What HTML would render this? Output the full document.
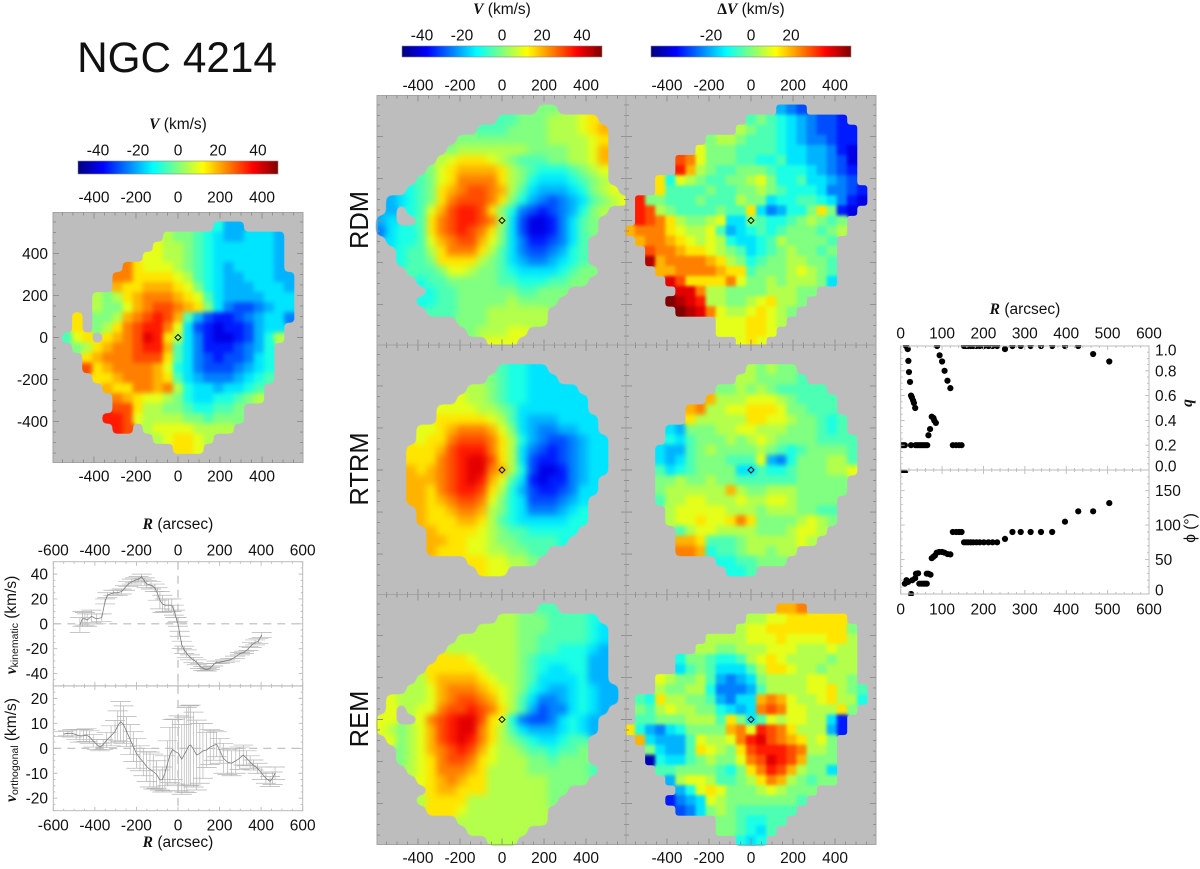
<!DOCTYPE html>
<html lang="en">
<head>
<meta charset="utf-8">
<title>NGC 4214 kinematic maps</title>
<style>
html,body{margin:0;padding:0;background:#fff}
svg{display:block}
text{font-family:"Liberation Sans",sans-serif;fill:#111;font-size:15.5px}
.vs{font-family:"Liberation Serif",serif;font-weight:bold;font-style:italic}
</style>
</head>
<body>
<svg id="fig" xmlns="http://www.w3.org/2000/svg" width="1200" height="869" viewBox="0 0 1200 869">
<defs>
<linearGradient id="jetGrad" x1="0" x2="1" y1="0" y2="0">
<stop offset="0" stop-color="#00007f"/><stop offset=".125" stop-color="#0000ff"/><stop offset=".375" stop-color="#00ffff"/><stop offset=".625" stop-color="#ffff00"/><stop offset=".875" stop-color="#ff0000"/><stop offset="1" stop-color="#7f0000"/>
</linearGradient>
<filter id="blurS" x="-8%" y="-8%" width="116%" height="116%" color-interpolation-filters="sRGB"><feGaussianBlur stdDeviation="1.5"/><feComponentTransfer><feFuncA type="linear" slope="8" intercept="-3.5"/></feComponentTransfer></filter>
<filter id="blurM" x="-8%" y="-8%" width="116%" height="116%" color-interpolation-filters="sRGB"><feGaussianBlur stdDeviation="2.5"/><feComponentTransfer><feFuncA type="linear" slope="8" intercept="-3.5"/></feComponentTransfer></filter>
<filter id="blurL" x="-8%" y="-8%" width="116%" height="116%" color-interpolation-filters="sRGB"><feGaussianBlur stdDeviation="3.5"/><feComponentTransfer><feFuncA type="linear" slope="8" intercept="-3.5"/></feComponentTransfer></filter>
<clipPath id="clipQ"><rect x="901" y="345" width="248" height="128"/></clipPath>
<clipPath id="clipPhi"><rect x="901" y="470" width="248" height="126"/></clipPath>
</defs>
<rect width="1200" height="869" fill="#fff"/>
<text x="177" y="72" text-anchor="middle" style="font-size:42.3px">NGC 4214</text>

<text x="178" y="129" text-anchor="middle"><tspan class="vs">V</tspan> (km/s)</text>
<text x="502" y="14" text-anchor="middle"><tspan class="vs">V</tspan> (km/s)</text>
<text x="751" y="14" text-anchor="middle"><tspan style="font-family:'Liberation Serif',serif;font-weight:bold">Δ</tspan><tspan class="vs">V</tspan> (km/s)</text>
<rect x="78" y="161" width="200" height="13" fill="url(#jetGrad)" stroke="#888" stroke-width=".6"/>
<rect x="402" y="46" width="200" height="11" fill="url(#jetGrad)" stroke="#888" stroke-width=".6"/>
<rect x="651" y="46" width="200" height="11" fill="url(#jetGrad)" stroke="#888" stroke-width=".6"/>

<text transform="translate(368,220) rotate(-90)" text-anchor="middle" style="font-size:25.5px">RDM</text>
<text transform="translate(368,469) rotate(-90)" text-anchor="middle" style="font-size:25.5px">RTRM</text>
<text transform="translate(368,719) rotate(-90)" text-anchor="middle" style="font-size:25.5px">REM</text>

<text x="178" y="529" text-anchor="middle"><tspan class="vs">R</tspan> (arcsec)</text>
<text x="178" y="847" text-anchor="middle"><tspan class="vs">R</tspan> (arcsec)</text>
<text transform="translate(16,625) rotate(-90)" text-anchor="middle"><tspan class="vs">v</tspan><tspan dy="2" style="font-size:10.5px">kinematic</tspan><tspan dy="-2"> (km/s)</tspan></text>
<text transform="translate(16,750) rotate(-90)" text-anchor="middle"><tspan class="vs">v</tspan><tspan dy="2" style="font-size:10.5px">orthogonal</tspan><tspan dy="-2"> (km/s)</tspan></text>
<text x="1025" y="314" text-anchor="middle"><tspan class="vs">R</tspan> (arcsec)</text>
<text transform="translate(1192,403) rotate(-90)" text-anchor="middle"><tspan class="vs">q</tspan></text>
<text transform="translate(1195,528) rotate(-90)" text-anchor="middle">ϕ (°)</text>
<g id="layer"></g>
</svg>
<script>
// Colorbar and axis tick labels
const cbarLabels = [-40, -20, 0, 20, 40];
const residualCbarLabels = [-20, 0, 20];
const mapTicks = [-400, -200, 0, 200, 400];
const profileXTicks = [-600, -400, -200, 0, 200, 400, 600];
const kinYTicks = [-40, -20, 0, 20, 40];
const ortYTicks = [-20, -10, 0, 10, 20];
const scatterXTicks = [0, 100, 200, 300, 400, 500, 600];
const qTicks = [0, 0.2, 0.4, 0.6, 0.8, 1];
const phiTicks = [0, 50, 100, 150];

// Kinematic profile: radius (arcsec), velocity (km/s), error (km/s)
const kinR = [-472,-460,-448,-437,-416,-392,-367,-351,-340,-311,-290,-271,-255,-239,-222,-207,-190,-175,-160,-151,-130,-111,-98,-87,-75,-63,-45,-30,-20,-14,-6,0,8,18,30,42,58,74,90,106,122,138,154,170,186,202,226,250,274,298,318,339,355,371,387,403];
const kinV = [-1,4,4,3,6,4,5,18,23,25,25,26,29,32,34,35,36,38,34,32,31,29,24,19,16,15,15,15,11,8,3,0,-8,-17,-21,-24,-27,-29,-31,-34,-36,-37,-36,-33,-31,-31,-30,-29,-27,-24,-23,-20,-17,-15,-14,-9];
const kinE = [6,6,5,5,5,4,3,2,2,2,2,2,2,2,2,2,2,2,3,3,3,3,5,7,7,5,5,5,4,3,2,2,2,3,3,3,2,2,2,2,1.5,1,1,1,1,1,1,1,1,1,1,1.5,2,2,2,2];

// Orthogonal profile
const ortR = [-550,-530,-510,-490,-472,-455,-440,-425,-408,-390,-375,-360,-343,-322,-303,-290,-276,-262,-247,-230,-215,-200,-183,-167,-151,-135,-119,-103,-87,-75,-63,-50,-39,-26,-14,2,18,30,42,52,61,75,90,105,120,138,155,172,186,202,218,238,258,278,296,314,330,347,363,383,403,423,443,455,467];
const ortV = [5.7,6,6,5.5,5,5,5.3,4.5,3,1.5,.5,1.5,3.3,5,6.7,9,10.7,9.5,6.7,3.5,.7,-2,-4,-5.5,-7.3,-8.5,-9.3,-10.5,-12.7,-12.5,-10,-6,-2.7,-.5,-1.3,-2,-4.4,-2.5,-.7,1,1.3,-.5,-2.7,-2,-1,-.7,.5,1.2,1.6,-1,-4,-5.5,-6,-5,-4,-2.7,-4,-5.5,-6.7,-8,-10,-12,-13.3,-12,-10];
const ortE = [1,1,1.5,2,2.5,2.5,2.5,2.5,2.5,2,1.5,2,3,4,4.5,6,8,7.5,6,6,6,6,5,5.5,6,7,7,5.5,4,5,7,9,11,12,13,15,14,15,17,16,16,15,14,12,11,7,7,6,5,5,6,5,5,5,4.5,4,3,2.5,2,2,2.5,2,2,2.5,2.5];

// Axis ratio q against radius
const qR = [2,6,10,2,6,10,25,36,40,44,48,52,56,60,64,67,71,75,79,81,85,13,17,18.5,20,22.5,25,27,30,32,35,88,94,100,106,113,120,126,134,141,147,153,158,163,169,175,183,191,201,212,222,233,252,270,290,314,339,366,397,429,465,504];
const qV = [-.02,-.02,-.02,.2,.2,.2,.2,.2,.2,.2,.2,.2,.2,.2,.2,.28,.33,.43,.42,.4,.38,1,.975,.88,.79,.71,.6,.585,.56,.54,.5,1,.925,.875,.8,.72,.66,.2,.2,.2,.2,1,1,1,1,1,1,1,1,1,1,1,.975,1,1,1,1,1,1,1,.935,.875];

// Position angle phi against radius
const phiR = [10,14,18,25,28,35,37,42,45,50,55,59,63,63,67,72,75,79,83,87,93,100,106,113,120,126,134,141,147,153,158,163,169,175,183,191,201,212,222,233,252,270,290,314,339,366,397,429,465,504];
const phiV = [15,20,17.5,0,20,23,29.5,30,15,15,15,15,15,29.5,29.5,28,52,54,56,60,61,61,60,58,57.5,90,90,90,90,75,75,75,75,75,75,75,75,75,75,75,80,90,90,90,90,90,105,120,120,132];

// Map cells: rows top to bottom, columns left to right, in units of 5 km/s. Empty = no data.
const obsMap = [
[],
[,,,,,,,,,,,,,,,,-2,-4,-4],
[,,,,,,,,,,,1,0,0,-1,-2,-3,-4,-4,-3,-3,-3,-4],
[,,,,,,,,,,2,1,1,0,-1,-2,-3,-3,-3,-3,-3,-3,-4],
[,,,,,,,,,2,2,1,1,0,-1,-2,-3,-3,-3,-3,-3,-3,-4],
[,,,,,,,5,3,2,2,2,1,0,-1,-2,-3,-4,-3,-3,-3,-3,-4],
[,,,,,,5,5,3,3,3,3,2,1,-1,-2,-3,-4,-4,-3,-3,-3,-4,-4],
[,,,,,,4,3,3,4,4,4,3,2,0,-2,-3,-4,-4,-4,-3,-3,-3,-4],
[,,,,1,0,1,3,4,5,5,5,4,3,2,-1,-3,-4,-4,-4,-4,-3,-3,-3],
[,,,,1,0,0,2,4,5,6,6,5,4,3,0,-3,-5,-6,-6,-5,-4,-3,-3],
[,,3,,0,0,1,4,5,6,7,6,4,-1,-4,-6,-7,-7,-6,-5,-4,-3,-3,-5],
[,,3,,0,1,3,5,6,7,7,5,2,-3,-6,-7,-8,-7,-7,-6,-4,-3,-3],
[,-1,2,3,,3,4,5,6,8,7,3,1,-3,-5,-7,-8,-8,-7,-6,-4,-2,1],
[,,0,1,3,4,5,5,6,7,7,4,-1,-3,-5,-7,-7,-7,-6,-5,-4,-2],
[,,,3,4,5,5,5,6,6,6,3,-1,-3,-5,-6,-7,-6,-6,-5,-3,-2],
[,,,6,3,4,5,5,5,5,4,2,-2,-3,-5,-6,-6,-6,-5,-4,-3,-2],
[,,,,3,3,4,5,5,5,4,3,-1,-3,-4,-5,-5,-5,-4,-3,-2,-1],
[,,,,,4,3,3,5,5,4,5,1,-2,-3,-3,-4,-3,-3,-2,-1],
[,,,,,,5,4,3,2,2,1,0,-2,-3,-3,-2,-2,-1,0,1],
[,,,,,,6,6,3,1,1,0,0,-1,-2,-2,-1,-1,0],
[,,,,,7,7,6,2,1,1,1,1,0,0,-1,0,0,0],
[,,,,,,7,6,,1,2,2,2,2,1,1,1,1],
[,,,,,,,,,,1,2,3,3,2,1],
[,,,,,,,,,,,,3,3,2],
[]];

const rdmModel = [
[],
[,,,,,,,,,,,,,,,,0,0],
[,,,,,,,,,,,,-1,-1,0,0,0,1,1,1,2,3],
[,,,,,,,,,,-1,-1,-1,0,0,0,0,1,1,1,2,3,4],
[,,,,,,,,0,0,0,0,0,0,0,0,0,1,1,1,1,2,3],
[,,,,,,,0,1,1,1,1,1,1,1,0,0,0,0,1,1,2,4],
[,,,,,,1,2,3,3,3,2,1,0,-1,-1,-1,0,0,1,1,2,4],
[,,,,,0,2,3,4,4,4,4,3,1,0,-1,-2,-2,-2,-1,0,1,2],
[,,,,-1,0,2,3,5,5,5,5,3,1,0,-2,-3,-3,-3,-2,-1,0,1],
[,,,-2,-1,0,3,4,5,6,6,5,4,1,-1,-3,-4,-4,-4,-3,-2,0,1,2],
[,-4,-3,-2,-1,0,3,5,6,6,6,5,3,0,-2,-4,-5,-6,-5,-4,-3,-1,0,1,2],
[,-4,,-2,-1,2,4,6,7,7,6,3,0,-2,-5,-6,-7,-6,-5,-4,-2,0,1],
[-4,-3,,,-1,3,5,6,7,7,6,5,1,-3,-6,-8,-8,-7,-5,-3,-1,0],
[-5,-3,-2,-2,-1,3,5,6,7,6,5,3,0,-3,-6,-8,-8,-7,-5,-3,-1,0],
[,-3,-2,-2,-1,2,4,5,6,6,4,2,0,-3,-5,-7,-7,-6,-5,-3,-1],
[,,-2,-1,-1,1,3,5,5,5,3,1,-1,-3,-5,-6,-6,-5,-4,-2,-1],
[,,-2,-1,-1,0,3,3,3,3,1,0,-1,-3,-4,-5,-5,-4,-3,-2,-1],
[,,,-1,-1,-1,0,2,2,1,0,0,-1,-2,-3,-3,-3,-3,-2,-1,0,0],
[,,,,-2,-1,-1,0,0,0,0,0,-1,-1,-2,-2,-2,-1,-1,0,0],
[,,,,,-2,-1,-1,0,0,0,0,0,0,-1,-1,0,0,0],
[,,,,-2,-2,-1,-1,0,0,0,0,0,1,0,0,0,0],
[,,,,,-1,-1,-1,0,0,0,1,1,1,1,1,1],
[,,,,,,,,0,0,0,1,1,1,1,1,1],
[,,,,,,,,,0,1,1,1,2,2],
[,,,,,,,,,,,2,2,2]];

const rdmResidual = [
[],
[,,,,,,,,,,,,,,,-4,-5,-6],
[,,,,,,,,,,,,-1,0,-1,-2,-3,-4,-5,-6,-6,-7],
[,,,,,,,,,,,1,0,-1,-1,-2,-3,-4,-5,-6,-6,-7,-7],
[,,,,,,,,0,1,1,0,-1,-1,-1,-2,-3,-4,-5,-5,-6,-7,-7],
[,,,,,,,2,0,0,0,-1,-1,-1,-1,-2,-3,-3,-4,-4,-5,-7,-8],
[,,,,,6,5,2,0,0,0,-1,-1,-2,-2,-1,-3,-3,-4,-4,-5,-6,-8],
[,,,,,7,4,1,0,-1,-1,0,0,0,-1,-2,-2,-2,-3,-4,-5,-6,-7],
[,,,3,-2,2,1,0,-1,-1,0,0,1,2,0,-2,-2,-1,-3,-3,-4,-5,-6],
[,,,3,-1,-1,-1,-1,0,-1,-1,0,0,1,0,-1,-2,-2,-2,-3,-5,-5,-6,-7],
[,7,0,0,-1,-1,-1,0,-1,-1,-1,1,0,0,-3,-2,-2,-1,-1,-2,-3,-5,-7,-8],
[,7,6,1,0,-1,-1,-1,-1,0,-1,-1,3,-3,-5,-4,-2,-2,0,3,0,-7,-8],
[,7,6,5,3,1,0,0,1,2,-3,-3,0,-1,-2,-2,-1,0,1,0,-1,0],
[4,5,5,5,3,2,1,1,2,-1,-4,-3,-2,-1,-2,-1,0,0,0,-1,0,1],
[,4,5,5,4,3,2,1,2,1,-2,-3,-3,-2,-1,1,0,0,0,0,-1],
[,,6,5,5,4,3,3,2,1,0,-1,-3,-2,-1,0,1,0,0,-1,0],
[,,9,4,5,5,5,5,4,3,1,0,-2,-1,0,0,1,1,0,0,-1],
[,,,4,4,5,5,5,5,4,3,3,-1,0,0,0,1,2,1,0,-1],
[,,,,8,6,3,3,3,3,5,2,0,0,1,0,1,1,1,0,-3],
[,,,,,8,8,5,1,1,0,0,0,0,1,1,1,0,0],
[,,,,10,9,8,7,1,1,0,0,1,2,3,1,1,0],
[,,,,,10,9,8,5,2,1,1,2,3,2,1,0],
[,,,,,,,,,2,2,2,3,3,2,1],
[,,,,,,,,,2,2,2,3,3,2],
[,,,,,,,,,,,2,3,2]];

const rtrmModel = [
[],
[],
[,,,,,,,,,,,,-1,-2,-2,-3,-3],
[,,,,,,,,,,,0,-1,-2,-2,-3,-3,-3],
[,,,,,,,,,1,1,0,-1,-2,-2,-3,-3,-3,-3,-3],
[,,,,,,,,2,1,1,0,-1,-2,-2,-3,-3,-3,-3,-3,-3],
[,,,,,,2,2,2,2,1,1,0,-1,-3,-3,-3,-3,-3,-3,-3],
[,,,,,,3,3,3,3,3,2,1,-1,-3,-4,-4,-4,-3,-3,-3,-3],
[,,,,2,2,3,4,5,5,5,4,2,0,-3,-4,-5,-5,-4,-4,-3,-3],
[,,,,2,3,3,5,6,6,6,5,3,1,-2,-4,-5,-6,-6,-5,-4,-3,-3],
[,,,3,3,3,4,6,7,7,7,5,3,1,-3,-5,-6,-7,-6,-5,-4,-3,-3],
[,,,3,3,3,5,6,7,8,8,6,3,1,-3,-6,-7,-7,-6,-5,-4,-3,-3],
[,,,4,3,4,5,6,7,8,8,5,4,1,-2,-6,-8,-8,-7,-5,-4,-3,-3],
[,,,4,4,4,5,6,7,8,7,4,2,-1,-3,-7,-8,-7,-7,-5,-4,-3],
[,,,4,4,3,5,6,7,7,6,3,1,-2,-4,-6,-7,-7,-6,-5,-3,-3],
[,,,4,4,3,4,5,6,6,5,2,0,-2,-3,-6,-6,-6,-5,-4,-3],
[,,,,4,3,3,4,5,5,4,1,0,-2,-3,-5,-5,-5,-4,-3,-2],
[,,,,4,3,3,3,4,4,3,1,-1,-2,-3,-3,-3,-3,-3,-2,-2],
[,,,,,4,3,3,3,3,2,1,0,-1,-1,-2,-2,-2,-2,-2],
[,,,,,4,4,3,3,2,2,1,0,0,-1,-1,-1,-1,-2],
[,,,,,4,3,3,3,2,2,1,1,0,0,-1,-1],
[,,,,,,,,,3,3,2,2,1,1,0],
[,,,,,,,,,,3,2,2]];

const rtrmResidual = [
[],
[],
[,,,,,,,,,,,,1,0,1,0,0],
[,,,,,,,,,,,1,1,0,0,0,0,-1],
[,,,,,,,,,0,0,1,0,1,0,-1,-1,-1,-1,-1],
[,,,,,,,,4,1,1,1,2,2,2,1,0,-1,-1,-1,-1],
[,,,,,,4,5,1,1,2,2,3,3,3,2,0,0,-1,-1,-1],
[,,,,,,3,1,1,1,1,1,3,3,2,2,1,0,0,-1,-2,-1],
[,,,,-3,-4,0,0,0,1,1,2,2,1,1,1,0,0,0,-1,-2,-1],
[,,,,-2,-3,-1,0,0,0,1,0,1,2,1,0,0,0,0,-1,-1,-1,-1],
[,,,-3,-4,-4,-1,0,1,0,0,0,0,1,0,-1,-2,-1,0,0,0,0,-1],
[,,,-3,-4,-3,-1,0,0,0,-1,-1,-1,2,-4,-5,-2,0,0,0,1,1,-1],
[,,,-1,-3,-2,-1,0,0,0,0,-3,-3,-1,-2,-2,-1,0,0,0,1,1,2],
[,,,0,0,1,0,0,1,0,0,-1,-1,-1,-1,-1,-1,0,0,0,0,0],
[,,,0,1,1,1,1,1,1,4,1,0,0,1,1,1,0,0,0,0,0],
[,,,-1,1,1,2,2,1,1,1,2,1,1,2,2,1,0,0,0,0],
[,,,,1,2,2,2,2,2,1,1,1,0,1,1,1,0,0,-1,-1],
[,,,,1,2,2,3,2,2,3,5,3,0,0,0,0,1,2,1,0],
[,,,,,-1,1,2,2,1,1,1,1,0,0,0,1,2,2,1],
[,,,,,4,4,3,-1,-1,-1,0,1,1,1,1,1,2,1],
[,,,,,5,5,4,-2,-1,-1,0,1,1,0,1,1],
[,,,,,,,,,-2,-2,-1,-1,0,0,0],
[,,,,,,,,,,-2,-2,-1]];

const remModel = [
[],
[,,,,,,,,,,,,,,,,-1,-1],
[,,,,,,,,,,,,1,1,0,0,0,-1,-1,-1,-1,-2],
[,,,,,,,,,,1,1,1,1,0,0,0,-1,-1,-1,-1,-2,-3],
[,,,,,,,,1,1,1,1,1,1,0,0,-1,-1,-1,-1,-1,-2,-3],
[,,,,,,,1,1,1,1,1,1,1,0,0,-1,-1,-2,-2,-2,-3,-4],
[,,,,,,3,3,3,2,1,1,1,1,0,-1,-2,-2,-2,-2,-2,-4,-4],
[,,,,,3,3,3,3,3,2,1,1,1,0,-1,-2,-3,-3,-2,-2,-4,-4],
[,,,,1,3,4,4,4,4,3,2,1,1,0,-1,-3,-3,-3,-3,-2,-4,-4],
[,,,1,1,2,4,5,5,5,4,3,2,1,0,-2,-3,-4,-4,-3,-2,-3,-4,-4],
[,2,1,1,1,2,4,5,6,6,5,4,2,1,-1,-3,-5,-5,-4,-3,-2,-3,-4,-4],
[,2,,1,2,2,5,6,6,7,6,5,3,1,-1,-4,-6,-5,-5,-3,-2,-3,-4],
[2,2,,,2,5,6,7,8,8,6,3,2,-2,-5,-6,-6,-5,-3,-2,-3,-4],
[2,1,0,1,2,4,6,7,8,8,5,3,1,-1,-3,-4,-4,-4,-3,-2,-3,-4],
[,2,0,1,2,4,6,7,8,7,5,3,1,0,-1,-2,-3,-3,-2,-1,-1],
[,,0,1,2,4,5,6,7,6,4,2,1,1,0,-1,-1,-2,-1,-1,0],
[,,0,1,2,3,5,6,6,5,3,2,1,1,1,0,0,-1,0,0,0],
[,,,1,2,3,5,5,5,4,3,1,1,1,1,0,0,0,0,0,0,-1],
[,,,,2,3,4,5,4,3,3,1,1,1,1,1,1,0,0,0,0],
[,,,,,3,4,4,3,3,3,1,1,1,1,1,1,0,0],
[,,,,1,3,3,3,3,1,1,1,1,1,1,1,1,0],
[,,,,,3,3,3,2,1,1,1,1,1,1,1,1],
[,,,,,,,,1,1,1,1,1,1,1,1,1],
[,,,,,,,,,1,1,1,1,1,1],
[,,,,,,,,,,,1,1,1]];

const remResidual = [
[],
[,,,,,,,,,,,,,,,4,4,5],
[,,,,,,,,,,,,1,1,2,2,3,3,3,3,3,3],
[,,,,,,,,,,,1,2,2,3,3,3,3,3,3,3,3,0],
[,,,,,,,,1,1,1,1,2,2,2,3,2,2,2,2,3,3,1],
[,,,,,,,1,1,0,0,1,1,1,2,2,2,1,1,1,2,1,1],
[,,,,,-2,0,0,-1,-2,-2,-1,1,2,3,2,1,1,1,1,0,1,1],
[,,,,,-3,-1,0,-1,-3,-3,-3,-1,1,3,3,2,1,1,0,1,1,1],
[,,,2,1,0,0,1,-1,-4,-5,-4,-3,0,1,1,1,1,2,2,1,1,0],
[,,,1,0,0,1,1,-2,-5,-5,-5,-4,-1,1,1,1,1,2,2,3,1,0,-1],
[,-1,-2,3,1,1,0,0,-1,-4,-5,-3,-3,4,5,4,2,1,1,2,3,1,1,-2],
[,0,-1,1,2,1,1,0,0,-2,-3,-4,-3,5,6,5,2,2,1,1,1,3,0],
[,-1,-1,0,0,0,1,1,1,-1,3,0,-3,-1,2,1,2,2,1,1,-3,-7],
[3,-2,-4,-5,-3,-2,0,0,0,0,4,5,2,7,6,5,3,1,1,1,-4,-7],
[,4,-3,-4,-4,-4,-1,2,1,1,2,5,7,8,6,5,4,3,1,2,0],
[,,0,-3,-4,-4,-1,3,2,1,0,3,6,7,7,7,6,5,1,1,0],
[,,-9,-2,-3,-3,-1,0,1,0,0,2,5,6,8,7,6,4,0,0,0],
[,,,-1,-1,0,0,0,0,-1,-2,0,3,5,7,6,4,1,0,0,-3],
[,,,,-4,1,2,2,1,-1,-1,0,1,3,5,4,1,0,-1,0,0],
[,,,,,-4,-2,2,3,2,0,0,0,1,2,1,0,0,0],
[,,,,-7,-5,-4,-3,2,1,0,0,0,0,0,0,0,-1],
[,,,,,-6,-5,-3,0,1,0,-1,-1,-1,-1,-1,-1],
[,,,,,,,,,0,0,-1,-2,-2,-1,-1],
[,,,,,,,,,0,0,-1,-2,-3,-1],
[,,,,,,,,,,,-2,-3,-2]];

const layer = document.getElementById('layer');
const NS = 'http://www.w3.org/2000/svg';
const KM_PER_LEVEL = 5;
const CELL_ARCSEC = 48;
const CENTER_INDEX = 12;

function mk(tag, name, attrs, parent, txt) {
  const el = document.createElementNS(NS, tag);
  
  
  for (const k in attrs) el.setAttribute(k, attrs[k]);
  if (txt !== undefined) el.textContent = txt;
  (parent || layer).appendChild(el);
  return el;
}
function clamp01(a) { return Math.max(0, Math.min(1, a)); }
function jet(v) {
  const t = clamp01((v + 50) / 100);
  const c = a => Math.round(255 * clamp01(1.5 - Math.abs(4 * t - a)));
  return 'rgb(' + c(3) + ',' + c(2) + ',' + c(1) + ')';
}
function linear(d0, d1, r0, r1) { return v => r0 + (v - d0) / (d1 - d0) * (r1 - r0); }
function fmtTick(v) { return String(v); }
function label(name, x, y, txt, anchor) {
  mk('text', name, { x: x, y: y, 'text-anchor': anchor || 'middle' }, layer, txt);
}

function ticks(name, x0, y0, x1, y1, sx, sy, xMajor, xMinor, yMajor, yMinor, color, majLen, minLen) {
  let d = '';
  const xTick = (v, l) => {
    const p = sx(v);
    if (p < x0 - .1 || p > x1 + .1) return;
    d += 'M' + p + ' ' + y0 + 'v' + l + 'M' + p + ' ' + y1 + 'v' + (-l);
  };
  const yTick = (v, l) => {
    const p = sy(v);
    if (p < y0 - .1 || p > y1 + .1) return;
    d += 'M' + x0 + ' ' + p + 'h' + l + 'M' + x1 + ' ' + p + 'h' + (-l);
  };
  for (let v = -1000; v <= 1000; v += xMinor) xTick(v, v % xMajor === 0 ? majLen : minLen);
  for (let i = -400; i <= 400; i++) {
    const v = i * yMinor;
    const isMaj = Math.abs(v / yMajor - Math.round(v / yMajor)) < 1e-6;
    yTick(v, isMaj ? majLen : minLen);
  }
  mk('path', name, { d: d, fill: 'none', stroke: color, 'stroke-width': .9 });
}

function drawMap(name, cells, px, py, blurId) {
  const sx = linear(-595, 595, px, px + 250);
  const sy = linear(595, -595, py, py + 250);
  mk('rect', name + '-background', { x: px, y: py, width: 250, height: 250, fill: '#bdbdbd' });
  const g = mk('g', name + '-cells', { filter: 'url(#' + blurId + ')' });
  cells.forEach((row, r) => {
    row.forEach((level, c) => {
      if (level === undefined || level === null) return;
      const X = (c - CENTER_INDEX) * CELL_ARCSEC;
      const Y = (CENTER_INDEX - r) * CELL_ARCSEC;
      const el = document.createElementNS(NS, 'rect');
      
      
      el.setAttribute('x', sx(X - CELL_ARCSEC / 2));
      el.setAttribute('y', sy(Y + CELL_ARCSEC / 2));
      el.setAttribute('width', CELL_ARCSEC * .21 + .4);
      el.setAttribute('height', CELL_ARCSEC * .21 + .4);
      el.setAttribute('fill', jet(level * KM_PER_LEVEL));
      g.appendChild(el);
    });
  });
  mk('rect', name + '-frame', { x: px, y: py, width: 250, height: 250, fill: 'none', stroke: '#a4a4a4', 'stroke-width': 1 });
  ticks(name + '-ticks', px, py, px + 250, py + 250, sx, sy, 200, 50, 200, 50, '#8c8c8c', 6, 3);
  const cx = sx(0), cy = sy(0);
  mk('path', name + '-center-marker', { d: 'M' + (cx - 3) + ' ' + cy + 'L' + cx + ' ' + (cy - 3) + 'L' + (cx + 3) + ' ' + cy + 'L' + cx + ' ' + (cy + 3) + 'Z', fill: 'none', stroke: '#111', 'stroke-width': 1 });
  return { sx: sx, sy: sy };
}

// Maps
const mObs = drawMap('observed-velocity-map', obsMap, 53, 212.5, 'blurM');
drawMap('rdm-model-map', rdmModel, 377, 95.5, 'blurL');
drawMap('rdm-residual-map', rdmResidual, 626, 95.5, 'blurS');
drawMap('rtrm-model-map', rtrmModel, 377, 345, 'blurL');
drawMap('rtrm-residual-map', rtrmResidual, 626, 345, 'blurM');
const mRem = drawMap('rem-model-map', remModel, 377, 594.5, 'blurL');
const mRem2 = drawMap('rem-residual-map', remResidual, 626, 594.5, 'blurS');

// Map tick labels
mapTicks.forEach(v => {
  label('left-map-bar-tick', mObs.sx(v), 202.5, fmtTick(v));
  label('left-map-bottom-tick', mObs.sx(v), 481.5, fmtTick(v));
  label('left-map-y-tick', 48, mObs.sy(v) + 5.5, fmtTick(v), 'end');
  label('model-top-tick', mRem.sx(v), 90.5, fmtTick(v));
  label('residual-top-tick', mRem2.sx(v), 90.5, fmtTick(v));
  label('model-bottom-tick', mRem.sx(v), 863, fmtTick(v));
  label('residual-bottom-tick', mRem2.sx(v), 863, fmtTick(v));
});
const cbLeft = linear(-50, 50, 78, 278);
const cbMid = linear(-50, 50, 402, 602);
const cbRight = linear(-50, 50, 651, 851);
cbarLabels.forEach(v => {
  label('left-colorbar-tick', cbLeft(v), 155.5, fmtTick(v));
  label('model-colorbar-tick', cbMid(v), 40.5, fmtTick(v));
});
residualCbarLabels.forEach(v => label('residual-colorbar-tick', cbRight(v), 40.5, fmtTick(v)));

// Velocity profile panels
function drawProfile(name, R, V, E, y0, y1, dMax, yTicks, yMinor) {
  const sx = linear(-600, 600, 53.3, 302.7);
  const sy = linear(dMax, -dMax, y0, y1);
  const eg = mk('g', name + '-error-bars', { stroke: '#b4b4b4', 'stroke-width': .7, fill: 'none' });
  R.forEach((r, i) => {
    const x = sx(r), t = sy(V[i] + E[i]), b = sy(V[i] - E[i]);
    mk('path', name + '-error-bar', { d: 'M' + x + ' ' + t + 'V' + b + 'M' + (x - 10) + ' ' + t + 'h20M' + (x - 10) + ' ' + b + 'h20' }, eg);
  });
  mk('path', name + '-zero-line', { d: 'M53.3 ' + sy(0) + 'H302.7', stroke: '#bcbcbc', 'stroke-width': 1.2, 'stroke-dasharray': '8 6', fill: 'none' });
  mk('path', name + '-center-line', { d: 'M' + sx(0) + ' ' + y0 + 'V' + y1, stroke: '#bcbcbc', 'stroke-width': 1.2, 'stroke-dasharray': '8 6', fill: 'none' });
  mk('path', name + '-curve', { d: R.map((r, i) => (i ? 'L' : 'M') + sx(r) + ' ' + sy(V[i])).join(''), fill: 'none', stroke: '#7c7c7c', 'stroke-width': .8 });
  mk('rect', name + '-frame', { x: 53.3, y: y0, width: 249.4, height: y1 - y0, fill: 'none', stroke: '#bbb', 'stroke-width': 1 });
  ticks(name + '-ticks', 53.3, y0, 302.7, y1, sx, sy, 200, 50, yTicks[1] - yTicks[0], yMinor, '#bbb', 4, 2);
  yTicks.forEach(v => label(name + '-y-tick', 48, sy(v) + 5.5, fmtTick(v), 'end'));
  return sx;
}
const sxKin = drawProfile('kinematic-profile', kinR, kinV, kinE, 561.7, 685.9, 50, kinYTicks, 5);
drawProfile('orthogonal-profile', ortR, ortV, ortE, 685.9, 810.7, 25, ortYTicks, 2.5);
profileXTicks.forEach(v => {
  label('profile-top-x-tick', sxKin(v), 555.5, fmtTick(v));
  label('profile-bottom-x-tick', sxKin(v), 830.5, fmtTick(v));
});

// Scatter panels
const sxS = linear(0, 600, 900.7, 1149);
const syQ = linear(0, 1, 470, 346);
const syP = linear(0, 180, 594, 470);
const qG = mk('g', 'q-points', { 'clip-path': 'url(#clipQ)' });
qR.forEach((r, i) => {
  mk('circle', 'q-point', { cx: sxS(r), cy: syQ(qV[i]), r: 3.1, fill: '#000' }, qG);
});
const pG = mk('g', 'phi-points', { 'clip-path': 'url(#clipPhi)' });
phiR.forEach((r, i) => {
  mk('circle', 'phi-point', { cx: sxS(r), cy: syP(phiV[i]), r: 3.1, fill: '#000' }, pG);
});
mk('rect', 'q-panel-frame', { x: 900.7, y: 346, width: 248.3, height: 124, fill: 'none', stroke: '#bbb', 'stroke-width': 1 });
mk('rect', 'phi-panel-frame', { x: 900.7, y: 470, width: 248.3, height: 124, fill: 'none', stroke: '#bbb', 'stroke-width': 1 });
ticks('q-panel-ticks', 900.7, 346, 1149, 470, sxS, syQ, 100, 20, .2, .05, '#bbb', 4, 2);
ticks('phi-panel-ticks', 900.7, 470, 1149, 594, sxS, syP, 100, 20, 50, 10, '#bbb', 4, 2);
scatterXTicks.forEach(v => {
  label('scatter-top-x-tick', sxS(v), 338.5, fmtTick(v));
  label('scatter-bottom-x-tick', sxS(v), 614.5, fmtTick(v));
});
qTicks.forEach(v => {
  const c = Math.max(350, Math.min(466, syQ(v)));
  label('q-y-tick', 1155, c + 5.5, v.toFixed(1), 'start');
});
phiTicks.forEach(v => {
  const c = Math.min(590, syP(v));
  label('phi-y-tick', 1155, c + 5.5, fmtTick(v), 'start');
});
</script>
</body>
</html>
